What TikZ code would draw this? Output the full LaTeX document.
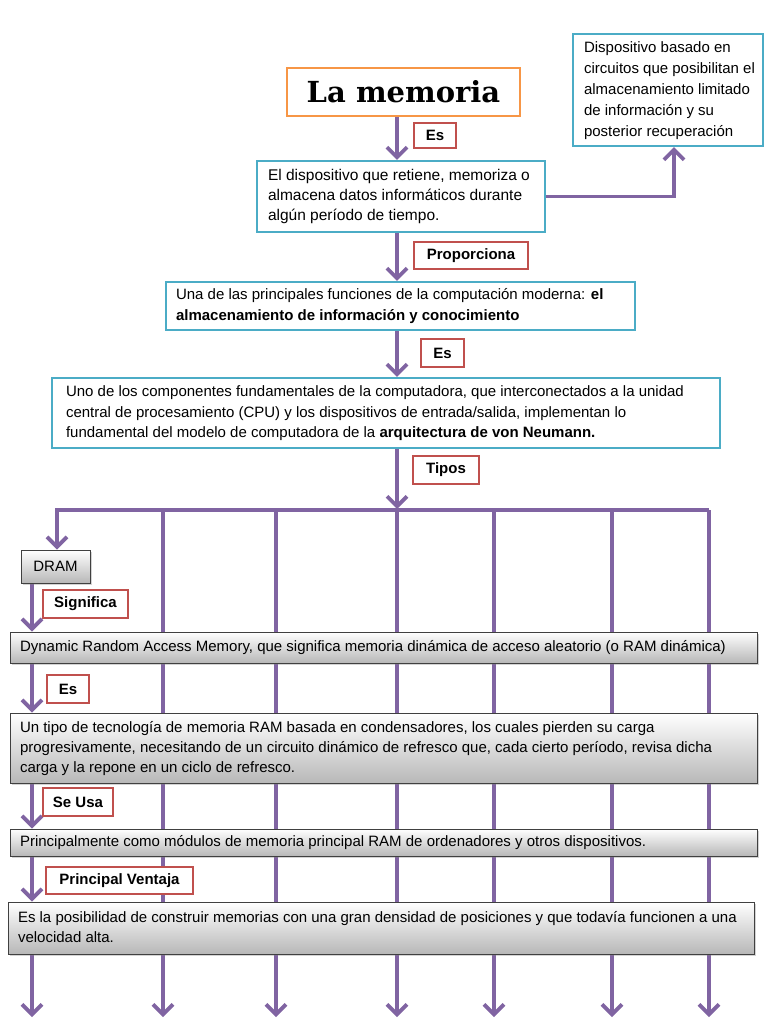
\documentclass[tikz,border=0pt]{standalone}
\usepackage{fontspec}
\setmainfont{Liberation Sans}
\newfontfamily\titlefont{DejaVu Serif}
\usetikzlibrary{arrows.meta,shadows,calc}
\definecolor{purp}{HTML}{8064A2}
\definecolor{cyanb}{HTML}{4BACC6}
\definecolor{redb}{HTML}{C0504D}
\definecolor{orangeb}{HTML}{F79646}
\pgfdeclarelayer{bg}
\pgfsetlayers{bg,main}
\newcommand\linesbox[2]{\makebox[#1][l]{\begin{tabular}{@{}l@{}}#2\end{tabular}}}
\tikzset{
 conn/.style={draw=purp, line width=3.8pt},
 arr/.style={conn, -{Straight Barb[length=10pt,width=20pt]}},
 lbl/.style={draw=redb, line width=1.8pt, fill=white, inner sep=0pt,
   font=\bfseries\fontsize{15}{17}\selectfont},
 cbox/.style={draw=cyanb, line width=2.2pt, fill=white, inner xsep=0pt, inner ysep=0pt,
   drop shadow={shadow xshift=1.2pt, shadow yshift=-1.2pt, opacity=0.25},
   font=\fontsize{15}{20.5}\selectfont},
 gbox/.style={draw=black!75, line width=0.9pt, top color=white, bottom color=black!28, inner xsep=0pt, inner ysep=0pt,
   drop shadow={shadow xshift=2pt, shadow yshift=-2pt, opacity=0.35},
   font=\fontsize{15}{20}\selectfont},
}
\begin{document}
\begin{tikzpicture}[x=1pt,y=-1pt]
\useasboundingbox (0,0) rectangle (768,1024);
% title
\node[draw=orangeb, line width=2pt, fill=white, minimum width=233pt, minimum height=48pt,
  font=\titlefont\bfseries\fontsize{29}{31}\selectfont] (title) at (403.5,92) {La memoria};
\node[lbl, minimum width=42pt, minimum height=25pt] (es1) at (435,135.5) {Es};
\node[cbox, minimum width=288pt, minimum height=71pt, font=\fontsize{15.5}{20}\selectfont] (box2) at (401,196.5)
 {\linesbox{266pt}{El dispositivo que retiene, memoriza o\\almacena datos informáticos durante\\algún período de tiempo.}};
\node[cbox, minimum width=190pt, minimum height=112pt, font=\fontsize{15}{21}\selectfont] (tr) at (668,90)
 {\linesbox{168pt}{Dispositivo basado en\\circuitos que posibilitan el\\almacenamiento limitado\\de información y su\\posterior recuperación}};
\node[lbl, minimum width=114pt, minimum height=27pt] (prop) at (471,255.5) {Proporciona};
\node[cbox, minimum width=469pt, minimum height=48pt] (box3) at (400.5,306)
 {\linesbox{449pt}{Una de las principales funciones de la computación moderna: \textbf{el}\\\textbf{almacenamiento de información y conocimiento}}};
\node[lbl, minimum width=43pt, minimum height=28pt] (es2) at (442.5,353) {Es};
\node[cbox, minimum width=668pt, minimum height=70pt] (box4) at (386,413)
 {\linesbox{640pt}{Uno de los componentes fundamentales de la computadora, que interconectados a la unidad\\central de procesamiento (CPU) y los dispositivos de entrada/salida, implementan lo\\fundamental del modelo de computadora de la \textbf{arquitectura de von Neumann.}}};
\node[lbl, minimum width=66pt, minimum height=28pt] (tipos) at (446,470) {Tipos};
% left chain
\node[gbox, minimum width=69pt, minimum height=33pt] (dram) at (55.5,566.5) {DRAM};
\node[lbl, minimum width=85pt, minimum height=28pt] (sig) at (85.5,604) {Significa};
\node[gbox, minimum width=747pt, minimum height=31pt] (dyn) at (383.5,647.5)
 {\linesbox{727pt}{Dynamic Random Access Memory, que significa memoria dinámica de acceso aleatorio (o RAM dinámica)}};
\node[lbl, minimum width=42pt, minimum height=28pt] (es3) at (68,689) {Es};
\node[gbox, minimum width=747pt, minimum height=70pt] (tipo) at (383.5,748)
 {\linesbox{727pt}{Un tipo de tecnología de memoria RAM basada en condensadores, los cuales pierden su carga\\progresivamente, necesitando de un circuito dinámico de refresco que, cada cierto período, revisa dicha\\carga y la repone en un ciclo de refresco.}};
\node[lbl, minimum width=70pt, minimum height=28pt] (usa) at (78,802) {Se Usa};
\node[gbox, minimum width=747pt, minimum height=27pt] (princ) at (383.5,842.5)
 {\linesbox{727pt}{Principalmente como módulos de memoria principal RAM de ordenadores y otros dispositivos.}};
\node[lbl, minimum width=147pt, minimum height=27pt] (vent) at (119.5,880.5) {Principal Ventaja};
\node[gbox, minimum width=746pt, minimum height=52pt] (esla) at (381,928)
 {\linesbox{726pt}{Es la posibilidad de construir memorias con una gran densidad de posiciones y que todavía funcionen a una\\velocidad alta.}};
% coordinates
\coordinate (cx) at (397,0);
\coordinate (cr) at (674,0);
\coordinate (lx) at (32,0);
\coordinate (barL) at (57,510);
\coordinate (barR) at (709,510);
\coordinate (b0) at (32,1017);
\begin{pgfonlayer}{bg}
\draw[arr] (cx |- title.south) -- (cx |- box2.north);
\draw[arr] (box2.east) -| (cr |- tr.south);
\draw[arr] (cx |- box2.south) -- (cx |- box3.north);
\draw[arr] (cx |- box3.south) -- (cx |- box4.north);
\draw[arr] (cx |- box4.south) -- ($(cx |- barL)+(0,-1)$);
\draw[arr, line join=miter] (barR) -- (barL) -- (barL |- dram.north);
\foreach \x/\n in {163/1,276/2,397/3,494/4,612/5,709/6}{
  \coordinate (t\n) at (\x,510);
  \coordinate (e\n) at (\x,1017);
  \draw[arr] (t\n) -- (e\n);
}
\draw[arr] (lx |- dram.south) -- (lx |- dyn.north);
\draw[arr] (lx |- dyn.south) -- (lx |- tipo.north);
\draw[arr] (lx |- tipo.south) -- (lx |- princ.north);
\draw[arr] (lx |- princ.south) -- (lx |- esla.north);
\draw[arr] (lx |- esla.south) -- (b0);
\end{pgfonlayer}
\end{tikzpicture}
\end{document}
